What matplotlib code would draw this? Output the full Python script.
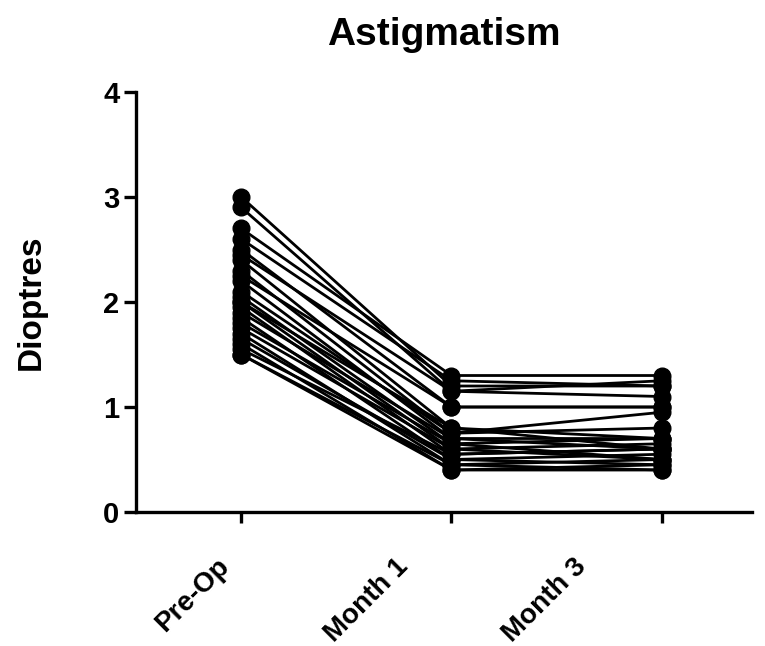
import numpy as np
import matplotlib.pyplot as plt
import matplotlib.transforms as mtransforms

plt.rcParams['font.family'] = ['Liberation Sans', 'DejaVu Sans']
plt.rcParams['font.weight'] = 'bold'

groups = ["Pre-Op", "Month 1", "Month 3"]

# one entry per eye
pre_op = [3.0, 2.9, 2.7, 2.6, 2.5, 2.45, 2.4, 2.3, 2.25, 2.2, 2.1, 2.05, 2.0,
          2.0, 1.95, 1.9, 1.85, 1.8, 1.75, 1.7, 1.65, 1.6, 1.55, 1.5, 1.5]
month1 = [1.2, 1.15, 1.3, 1.25, 1.0, 1.15, 0.8, 0.75, 1.0, 0.7, 0.75, 0.65, 0.6,
          0.8, 0.55, 0.7, 0.5, 0.65, 0.6, 0.45, 0.5, 0.4, 0.55, 0.4, 0.45]
month3 = [1.2, 1.25, 1.3, 1.2, 1.0, 1.1, 0.7, 0.95, 1.0, 0.6, 0.8, 0.7, 0.5,
          0.6, 0.6, 0.7, 0.55, 0.5, 0.65, 0.5, 0.45, 0.4, 0.6, 0.45, 0.4]

fig = plt.figure(figsize=(7.65, 6.46), dpi=100)
ax = fig.add_axes([0.178, 0.2074, 0.805, 0.6502])

x = np.arange(len(groups))
for a, b, c in zip(pre_op, month1, month3):
    ax.plot(x, [a, b, c], color='black', lw=2, marker='o', ms=12,
            mfc='black', mec='black', clip_on=False)

ax.set_xlim(-0.5, 2.43)
ax.set_ylim(0, 4)
ax.set_yticks([0, 1, 2, 3, 4])
ax.set_xticks(x)
ax.set_xticklabels(groups, rotation=45, ha='right', va='top')

for sp in ['top', 'right']:
    ax.spines[sp].set_visible(False)
for sp in ['left', 'bottom']:
    ax.spines[sp].set_linewidth(2.4)

ax.tick_params(axis='y', length=9, width=2.4, labelsize=21, pad=3)
ax.tick_params(axis='x', length=8, width=2.4, labelsize=20, pad=22)

shifts = [-7, -38, -70]
for lab, s in zip(ax.get_xticklabels(), shifts):
    lab.set_transform(lab.get_transform() +
                      mtransforms.ScaledTranslation(s / 100, 0, fig.dpi_scale_trans))

ax.set_ylabel("Dioptres", fontsize=24, fontweight='bold')
ax.yaxis.set_label_coords(-0.145, 0.5)
ax.set_title("Astigmatism", fontsize=28, fontweight='bold', pad=34)

fig.savefig("out.png", dpi=100)
